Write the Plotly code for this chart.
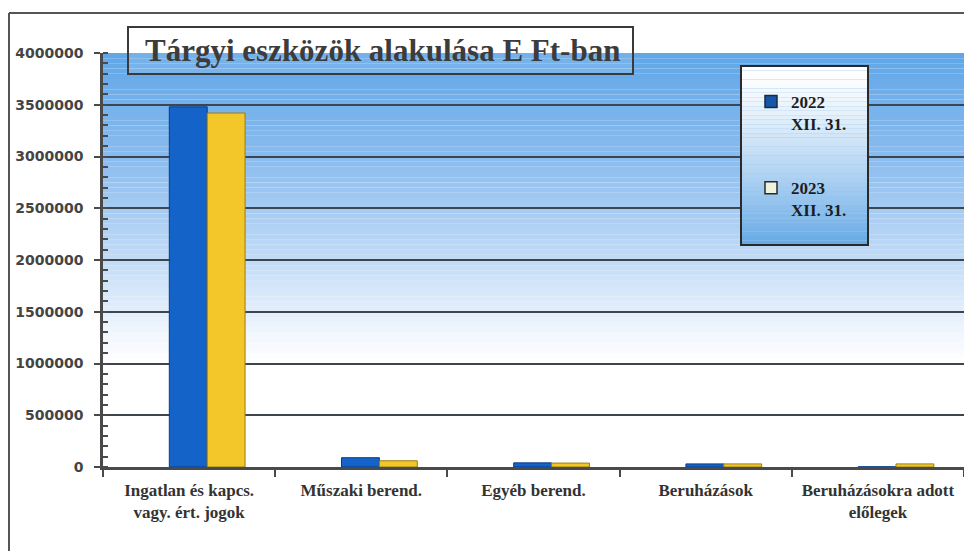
import plotly.graph_objects as go

categories = ["Ingatlan és kapcs.<br>vagy. ért. jogok", "Műszaki berend.", "Egyéb berend.",
              "Beruházások", "Beruházásokra adott<br>előlegek"]
values_2022 = [3480000, 90000, 40000, 30000, 2000]
values_2023 = [3420000, 60000, 38000, 30000, 30000]
series_names = ["2022<br>XII. 31.", "2023<br>XII. 31."]
y_ticks = [0, 500000, 1000000, 1500000, 2000000, 2500000, 3000000, 3500000, 4000000]

W, H = 964, 551
L, R, T, B = 103, 0, 53, 84
pw, ph = W - L - R, H - T - B

def px(x):
    return (x - L) / pw

def py(y):
    return (H - B - y) / ph

fig = go.Figure()
fig.add_trace(go.Bar(x=categories, y=values_2022, name=series_names[0], showlegend=False,
                     width=0.22, offset=-0.115,
                     marker=dict(color="#1363c9", line=dict(color="#0b3c85", width=1))))
fig.add_trace(go.Bar(x=categories, y=values_2023, name=series_names[1], showlegend=False,
                     width=0.22, offset=0.105,
                     marker=dict(color="#f3c72a", line=dict(color="#9a7d12", width=1))))
# legend entries
fig.add_trace(go.Bar(x=[None], y=[None], name=series_names[0], legendgroup="a",
                     marker=dict(color="#1456a8", line=dict(color="#1a2a40", width=1.5))))
fig.add_trace(go.Bar(x=[None], y=[None], name=series_names[1], legendgroup="b",
                     marker=dict(color="#eef3dc", line=dict(color="#2a2a2a", width=1.5))))

def lerp(c1, c2, t):
    return tuple(int(round(a + (b - a) * t)) for a, b in zip(c1, c2))

# background gradient of plot area (decoration)
stops = [(0, (255, 255, 255)), (1000000, (255, 255, 255)), (1300000, (240, 246, 253)),
         (2000000, (194, 219, 246)), (3000000, (138, 188, 238)), (4000000, (96, 166, 232))]
shapes = []
n = 80
for i in range(n):
    y0 = 4000000 * i / n
    y1 = 4000000 * (i + 1) / n
    ym = (y0 + y1) / 2
    for j in range(len(stops) - 1):
        if stops[j][0] <= ym <= stops[j + 1][0]:
            t = (ym - stops[j][0]) / (stops[j + 1][0] - stops[j][0])
            c = lerp(stops[j][1], stops[j + 1][1], t)
            break
    shapes.append(dict(type="rect", xref="paper", yref="y", x0=0, x1=1, y0=y0, y1=y1,
                       fillcolor="rgb(%d,%d,%d)" % c, line=dict(width=0), layer="below"))

# legend box gradient
lx0, lx1, ly0, ly1 = 741, 868, 66, 245
m = 40
for i in range(m):
    t = i / (m - 1)
    c = lerp((255, 255, 255), (104, 170, 230), t ** 1.3)
    shapes.append(dict(type="rect", xref="paper", yref="paper",
                       x0=px(lx0), x1=px(lx1),
                       y0=py(ly0 + (ly1 - ly0) * i / m), y1=py(ly0 + (ly1 - ly0) * (i + 1) / m),
                       fillcolor="rgb(%d,%d,%d)" % c, line=dict(width=0), layer="above"))
shapes.append(dict(type="rect", xref="paper", yref="paper", x0=px(lx0), x1=px(lx1),
                   y0=py(ly0), y1=py(ly1), line=dict(color="#2a2a2a", width=2), layer="above"))
# title box
shapes.append(dict(type="rect", xref="paper", yref="paper", x0=px(128), x1=px(633),
                   y0=py(27), y1=py(74), fillcolor="rgba(255,255,255,0.12)",
                   line=dict(color="#3a3a3a", width=2), layer="above"))
# outer frame: top and left lines
shapes.append(dict(type="line", xref="paper", yref="paper", x0=px(9), x1=px(964),
                   y0=py(13), y1=py(13), line=dict(color="#555555", width=2), layer="above"))
shapes.append(dict(type="line", xref="paper", yref="paper", x0=px(9), x1=px(9),
                   y0=py(13), y1=py(560), line=dict(color="#555555", width=2), layer="above"))

fig.update_layout(
    width=W, height=H,
    margin=dict(l=L, r=R, t=T, b=B),
    paper_bgcolor="white", plot_bgcolor="white",
    barmode="overlay",
    shapes=shapes,
    showlegend=True,
    legend=dict(x=px(751), y=py(84), xanchor="left", yanchor="top",
                bgcolor="rgba(0,0,0,0)", borderwidth=0,
                traceorder="grouped", tracegroupgap=39, valign="top",
                font=dict(family="Liberation Serif", size=17, color="#1e1e1e", weight="bold"),
                itemwidth=30),
    annotations=[dict(text="<b>Tárgyi eszközök alakulása E Ft-ban</b>", xref="paper", yref="paper",
                      x=px(382), y=py(51), xanchor="center", yanchor="middle", showarrow=False,
                      font=dict(family="Liberation Serif", size=31, color="#3c3c3c"))],
    xaxis=dict(
        type="category", range=[-0.5, 4.5],
        showline=True, linecolor="#4a4a4a", linewidth=2.5,
        ticks="outside", tickson="boundaries", ticklen=7, tickcolor="#4a4a4a", tickwidth=2,
        ticklabelstandoff=6,
        showgrid=False,
        tickfont=dict(family="Liberation Serif", size=17, color="#333333", weight="bold"),
    ),
    yaxis=dict(
        range=[0, 4000000], tickvals=y_ticks, ticktext=[str(v) for v in y_ticks],
        showline=True, linecolor="#4a4a4a", linewidth=2.5,
        ticks="outside", ticklen=6, tickcolor="#4a4a4a", tickwidth=2,
        ticklabelstandoff=8,
        showgrid=True, gridcolor="#3c4650", gridwidth=1.5,
        zeroline=False,
        minor=dict(dtick=100000, ticks="inside", ticklen=5, tickcolor="#4a4a4a", tickwidth=1.5,
                   showgrid=False),
        tickfont=dict(family="DejaVu Sans", size=14, color="#444444", weight="bold"),
    ),
)

fig.write_html("out.html", config={"displayModeBar": False},
               post_script="document.body.style.margin='0';")
